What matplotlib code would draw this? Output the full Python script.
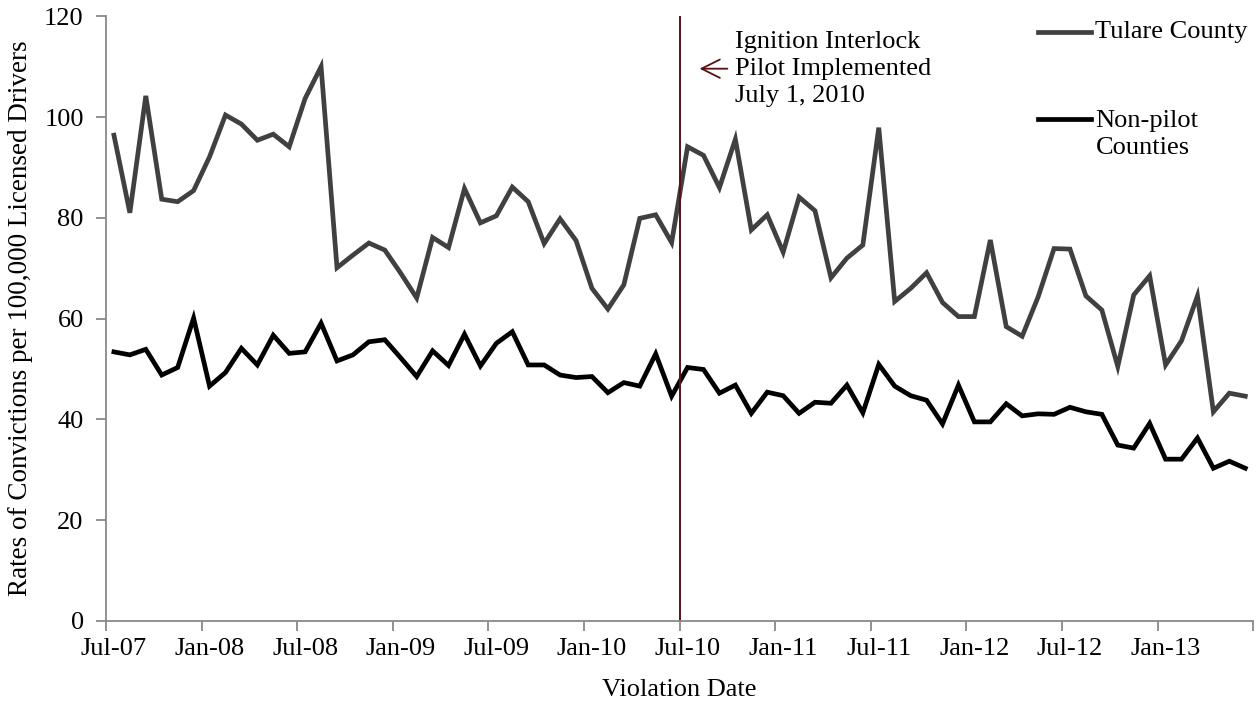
import matplotlib.pyplot as plt
from matplotlib.lines import Line2D

plt.rcParams['font.family'] = ['Liberation Serif', 'DejaVu Serif']

# monthly rates, Jul-07 .. Jun-13
tulare = [96.4, 81.0, 104.2, 83.7, 83.2, 85.4, 92.1, 100.4, 98.6, 95.4, 96.6, 94.1,
          103.7, 110.0, 70.1, 72.6, 75.0, 73.6, 69.0, 64.1, 76.1, 74.1, 85.8, 79.0,
          80.4, 86.1, 83.2, 74.9, 79.8, 75.5, 66.0, 61.9, 66.7, 79.9, 80.6, 75.1,
          94.1, 92.4, 86.0, 95.6, 77.6, 80.6, 73.2, 84.1, 81.4, 68.1, 72.0, 74.6,
          97.9, 63.4, 66.0, 69.1, 63.2, 60.4, 60.4, 75.6, 58.4, 56.5, 64.3, 73.9,
          73.8, 64.5, 61.7, 50.5, 64.7, 68.5, 50.8, 55.6, 64.5, 41.5, 45.2, 44.6]
nonpilot = [53.4, 52.8, 53.9, 48.8, 50.3, 60.1, 46.6, 49.3, 54.1, 50.8, 56.7, 53.1,
            53.4, 59.1, 51.6, 52.8, 55.4, 55.8, 52.2, 48.5, 53.6, 50.7, 56.9, 50.6,
            55.1, 57.4, 50.8, 50.8, 48.8, 48.3, 48.5, 45.3, 47.3, 46.6, 53.0, 44.6,
            50.3, 49.9, 45.2, 46.8, 41.2, 45.4, 44.7, 41.2, 43.4, 43.2, 46.8, 41.3,
            50.9, 46.6, 44.7, 43.8, 39.1, 46.8, 39.5, 39.5, 43.1, 40.7, 41.1, 41.0,
            42.4, 41.5, 41.0, 34.9, 34.3, 39.2, 32.1, 32.1, 36.3, 30.3, 31.7, 30.3]
tick_labels = ['Jul-07', 'Jan-08', 'Jul-08', 'Jan-09', 'Jul-09', 'Jan-10',
               'Jul-10', 'Jan-11', 'Jul-11', 'Jan-12', 'Jul-12', 'Jan-13']
pilot_start = 36  # Jul-10 index

fs = 19
x = list(range(len(tulare)))

fig = plt.figure(figsize=(12.57, 7.08), dpi=100)
ax = fig.add_axes([0.0843, 0.123, 0.9127, 0.854])

ax.plot(x, tulare, color='#404040', lw=3.4, solid_joinstyle='miter')
ax.plot(x, nonpilot, color='black', lw=3.4, solid_joinstyle='miter')
ax.axvline(pilot_start - 0.5, color='#5a1010', lw=1.4)

ax.set_xlim(-0.5, len(x) - 0.5)
ax.set_ylim(0, 120)
ax.set_yticks(range(0, 121, 20))

# tick marks between categories, labels centred on the month
ax.set_xticks([i - 0.5 for i in range(0, len(x) + 1, 6)])
ax.set_xticklabels([])
ax.set_xticks(list(range(0, len(x), 6)), minor=True)
ax.set_xticklabels(tick_labels, minor=True)
ax.tick_params(axis='x', which='major', length=7, color='#898989', width=1.3)
ax.tick_params(axis='x', which='minor', length=0, pad=12, labelsize=fs)
ax.tick_params(axis='y', length=7, color='#898989', width=1.3, pad=9, labelsize=fs)

for s in ['top', 'right']:
    ax.spines[s].set_visible(False)
for s in ['left', 'bottom']:
    ax.spines[s].set_color('#898989')
    ax.spines[s].set_linewidth(1.3)

ax.set_xlabel('Violation Date', fontsize=fs, labelpad=14)
ax.set_ylabel('Rates of Convictions per 100,000 Licensed Drivers', fontsize=19.5, labelpad=8)

ax.annotate('', xy=(36.75, 109.6), xytext=(38.5, 109.6),
            arrowprops=dict(arrowstyle='->,head_length=0.6,head_width=0.3',
                            color='#5a1010', lw=1.3, mutation_scale=22,
                            shrinkA=0, shrinkB=0))
ax.text(39.0, 109.6, 'Ignition Interlock\nPilot Implemented\nJuly 1, 2010',
        fontsize=fs, va='center', ha='left', linespacing=1.3)

# legend drawn by hand, Excel style
ax.add_line(Line2D([58.0, 61.3], [116.8, 116.8], color='#404040', lw=3.4, clip_on=False))
ax.text(61.6, 116.8, 'Tulare County', fontsize=fs, va='center', ha='left')
ax.add_line(Line2D([58.0, 61.3], [99.6, 99.6], color='black', lw=3.4, clip_on=False))
ax.text(61.6, 96.6, 'Non-pilot\nCounties', fontsize=fs, va='center', ha='left', linespacing=1.3)

fig.savefig('out.png', dpi=100)
